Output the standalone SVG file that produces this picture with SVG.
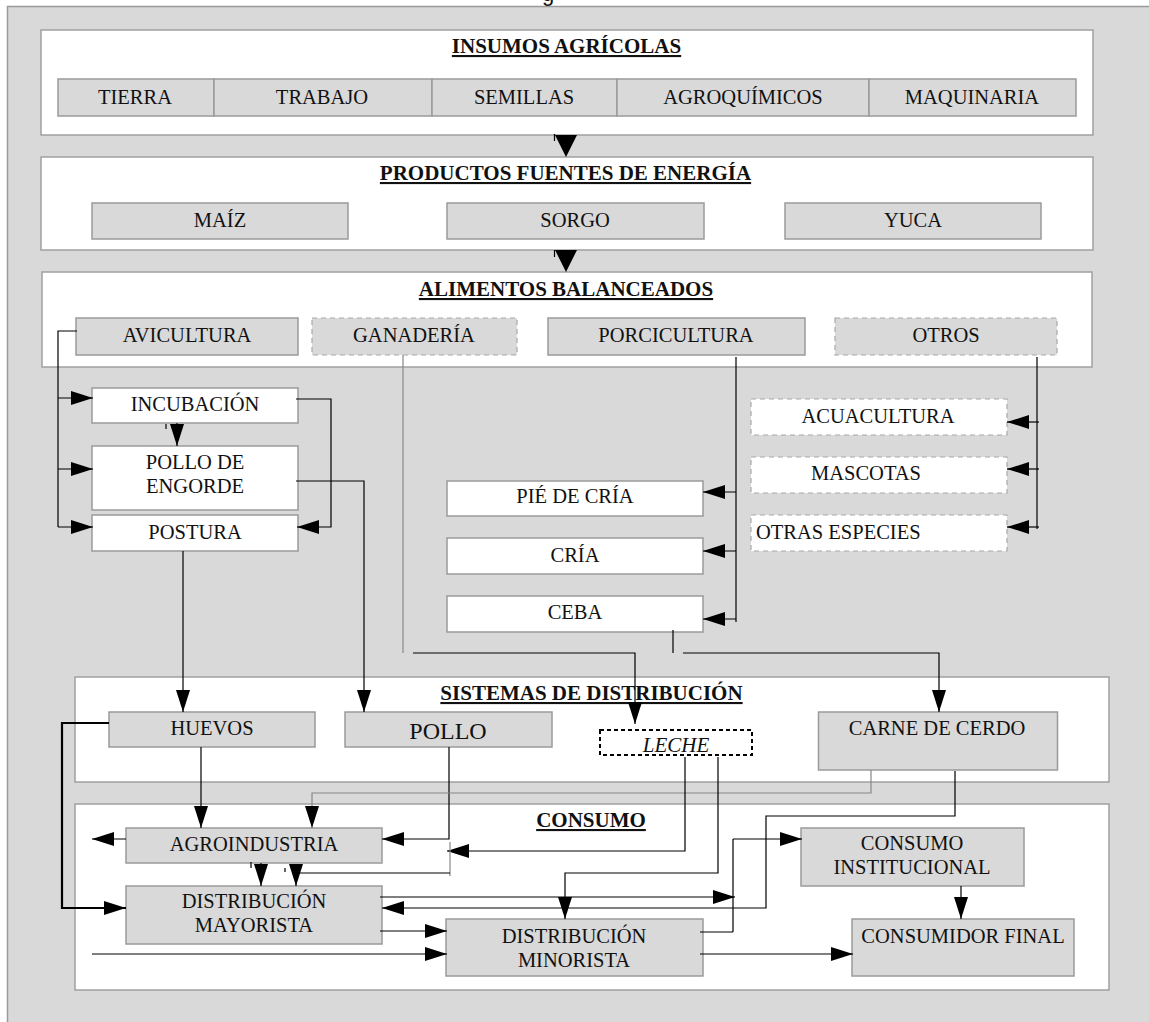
<svg xmlns="http://www.w3.org/2000/svg" width="1149" height="1022" viewBox="0 0 1149 1022" font-family="'Liberation Serif', 'Times New Roman', 'DejaVu Serif', serif">
<defs>
<style>
.bg{fill:#d9d9d9;stroke:#9a9a9a;stroke-width:1.5}
.panel{fill:#fff;stroke:#a0a0a0;stroke-width:1.5}
.box{fill:#d9d9d9;stroke:#9a9a9a;stroke-width:1.5}
.wbox{fill:#fff;stroke:#9a9a9a;stroke-width:1.5}
.dbox{fill:#d9d9d9;stroke:#a8a8a8;stroke-width:1.2;stroke-dasharray:5 4}
.dwbox{fill:#fff;stroke:#a8a8a8;stroke-width:1.2;stroke-dasharray:5 4}
.lbox{fill:#fff;stroke:#000;stroke-width:2;stroke-dasharray:4 3}
text{font-size:20.5px;fill:#111}
.c{text-anchor:middle}
.t{font-weight:bold;font-size:21px;text-anchor:middle;text-decoration:underline}
.ln{fill:none;stroke:#000;stroke-width:1.2}
.gl{fill:none;stroke:#888;stroke-width:1.2}
.thick{fill:none;stroke:#000;stroke-width:2.2}
.tri{fill:#000}
</style>
<marker id="ah" markerUnits="userSpaceOnUse" markerWidth="22" markerHeight="14" refX="22" refY="7" orient="auto">
<path d="M0,0 L22,7 L0,14 z" fill="#000"/>
</marker>
</defs>

<rect class="bg" x="7.5" y="6.5" width="1145" height="1020"/>
<text x="542" y="0.5" font-family="'Liberation Sans', Arial, sans-serif" style="font-size:22px">g</text>

<g id="insumos">
<rect class="panel" x="41" y="30" width="1052" height="105"/>
<text class="t" x="566.5" y="53">INSUMOS AGRÍCOLAS</text>
</g>
<g id="tierra"><rect class="box" x="58" y="79" width="156" height="37"/><text class="c" x="135" y="104">TIERRA</text></g>
<g id="trabajo"><rect class="box" x="214" y="79" width="218" height="37"/><text class="c" x="322" y="104">TRABAJO</text></g>
<g id="semillas"><rect class="box" x="432" y="79" width="185" height="37"/><text class="c" x="524" y="104">SEMILLAS</text></g>
<g id="agroquimicos"><rect class="box" x="617" y="79" width="252" height="37"/><text class="c" x="743" y="104">AGROQUÍMICOS</text></g>
<g id="maquinaria"><rect class="box" x="869" y="79" width="207" height="37"/><text class="c" x="972" y="104">MAQUINARIA</text></g>

<g id="productos">
<rect class="panel" x="41" y="157" width="1052" height="93"/>
<text class="t" x="565.5" y="180">PRODUCTOS FUENTES DE ENERGÍA</text>
</g>
<g id="maiz"><rect class="box" x="92" y="203" width="256" height="36"/><text class="c" x="220" y="227">MAÍZ</text></g>
<g id="sorgo"><rect class="box" x="447" y="203" width="257" height="36"/><text class="c" x="575" y="227">SORGO</text></g>
<g id="yuca"><rect class="box" x="785" y="203" width="256" height="36"/><text class="c" x="913" y="227">YUCA</text></g>

<g id="alimentos">
<rect class="panel" x="42" y="272" width="1050" height="95"/>
<text class="t" x="566" y="296">ALIMENTOS BALANCEADOS</text>
</g>
<g id="avicultura"><rect class="box" x="76" y="318" width="222" height="37"/><text class="c" x="187" y="342">AVICULTURA</text></g>
<g id="ganaderia"><rect class="dbox" x="312" y="318" width="205" height="37"/><text class="c" x="414" y="342">GANADERÍA</text></g>
<g id="porcicultura"><rect class="box" x="548" y="318" width="257" height="37"/><text class="c" x="676" y="342">PORCICULTURA</text></g>
<g id="otros"><rect class="dbox" x="835" y="318" width="222" height="37"/><text class="c" x="946" y="342">OTROS</text></g>

<g id="incubacion"><rect class="wbox" x="92" y="388" width="206" height="35"/><text class="c" x="195" y="411">INCUBACIÓN</text></g>
<g id="pollo-engorde"><rect class="wbox" x="92" y="446" width="206" height="64"/><text class="c" x="195" y="469">POLLO DE</text><text class="c" x="195" y="493">ENGORDE</text></g>
<g id="postura"><rect class="wbox" x="92" y="515" width="206" height="36"/><text class="c" x="195" y="539">POSTURA</text></g>

<g id="pie-de-cria"><rect class="wbox" x="447" y="481" width="256" height="35"/><text class="c" x="575" y="503">PIÉ DE CRÍA</text></g>
<g id="cria"><rect class="wbox" x="447" y="538" width="256" height="36"/><text class="c" x="575" y="562">CRÍA</text></g>
<g id="ceba"><rect class="wbox" x="447" y="596" width="256" height="36"/><text class="c" x="575" y="619">CEBA</text></g>

<g id="acuacultura"><rect class="dwbox" x="751" y="399" width="256" height="36"/><text class="c" x="878" y="423">ACUACULTURA</text></g>
<g id="mascotas"><rect class="dwbox" x="751" y="457" width="256" height="36"/><text class="c" x="866" y="480">MASCOTAS</text></g>
<g id="otras-especies"><rect class="dwbox" x="751" y="515" width="256" height="36"/><text x="756" y="539">OTRAS ESPECIES</text></g>

<g id="sistemas">
<rect class="panel" x="75" y="677" width="1034" height="105"/>
<text class="t" x="591.5" y="700">SISTEMAS DE DISTRIBUCIÓN</text>
</g>
<g id="huevos"><rect class="box" x="109" y="712" width="206" height="35"/><text class="c" x="212" y="735">HUEVOS</text></g>
<g id="pollo"><rect class="box" x="345" y="712" width="207" height="35"/><text class="c" x="448" y="739" style="font-size:24px">POLLO</text></g>
<g id="leche"><rect class="lbox" x="600" y="730" width="152" height="25"/><text class="c" x="676" y="752" style="font-style:italic;font-size:21px">LECHE</text></g>
<g id="carne-cerdo"><rect class="box" x="818.5" y="712" width="239" height="58"/><text class="c" x="937" y="735">CARNE DE CERDO</text></g>

<g id="consumo">
<rect class="panel" x="75" y="804" width="1034" height="186"/>
<text class="t" x="591" y="827">CONSUMO</text>
</g>
<g id="agroindustria"><rect class="box" x="126" y="828" width="256" height="35"/><text class="c" x="254" y="851">AGROINDUSTRIA</text></g>
<g id="mayorista"><rect class="box" x="126" y="886" width="256" height="58"/><text class="c" x="254" y="908">DISTRIBUCIÓN</text><text class="c" x="254" y="932">MAYORISTA</text></g>
<g id="minorista"><rect class="box" x="446" y="919" width="257" height="57"/><text class="c" x="574" y="943">DISTRIBUCIÓN</text><text class="c" x="574" y="967">MINORISTA</text></g>
<g id="consumo-institucional"><rect class="box" x="801" y="828" width="223" height="58"/><text class="c" x="912" y="850">CONSUMO</text><text class="c" x="912" y="874">INSTITUCIONAL</text></g>
<g id="consumidor-final"><rect class="box" x="852" y="919" width="222" height="57"/><text class="c" x="963" y="943">CONSUMIDOR FINAL</text></g>

<g id="connectors">
<polygon class="tri" points="555,135 577,135 566,157"/>
<polygon class="tri" points="555,250 577,250 566,272"/>
<path class="ln" d="M554.5,134 V141 M554.5,250 V257"/>

<path class="ln" d="M77,331 H58 V527"/>
<path class="ln" d="M58,398 H93" marker-end="url(#ah)"/>
<path class="ln" d="M58,469 H93" marker-end="url(#ah)"/>
<path class="ln" d="M58,527 H93" marker-end="url(#ah)"/>
<path class="ln" d="M296,399 H331 V527 H297" marker-end="url(#ah)"/>
<path class="ln" d="M177,423 V446" marker-end="url(#ah)"/>
<path class="ln" d="M166,424 V429"/>
<path class="ln" d="M296,481 H364 V712" marker-end="url(#ah)"/>
<path class="ln" d="M183,551 V712" marker-end="url(#ah)"/>

<path class="gl" d="M403,355 V653"/>
<path class="ln" d="M413,653 H635 V724" marker-end="url(#ah)"/>

<path class="ln" d="M736,357 V622"/>
<path class="ln" d="M736,492 H703" marker-end="url(#ah)"/>
<path class="ln" d="M736,551 H703" marker-end="url(#ah)"/>
<path class="ln" d="M736,619 H703" marker-end="url(#ah)"/>

<path class="ln" d="M673,630 V653"/>
<path class="ln" d="M683,653 H939 V712" marker-end="url(#ah)"/>

<path class="ln" d="M1037,357 V529"/>
<path class="ln" d="M1039,422 H1007" marker-end="url(#ah)"/>
<path class="ln" d="M1039,469 H1007" marker-end="url(#ah)"/>
<path class="ln" d="M1039,527 H1007" marker-end="url(#ah)"/>

<path class="thick" d="M109,723 H62 V908 H126" marker-end="url(#ah)"/>
<path class="ln" d="M201,747 V828" marker-end="url(#ah)"/>
<path class="ln" d="M449,747 V839 H382" marker-end="url(#ah)"/>
<path class="gl" d="M871,770 V793 H312 V828" marker-end="url(#ah)"/>

<path class="ln" d="M685,757 V851 H447" marker-end="url(#ah)"/>
<path class="gl" d="M450,842 V876"/>
<path class="ln" d="M450,873 H296 V886" marker-end="url(#ah)"/>
<path class="ln" d="M261,863 V886" marker-end="url(#ah)"/>
<path class="ln" d="M251,862 V868 M285,868 V872"/>

<path class="ln" d="M718,757 V873 H565 V919" marker-end="url(#ah)"/>
<path class="ln" d="M955,771 V816 H766 V908 H382" marker-end="url(#ah)"/>

<path class="ln" d="M380,897 H735" marker-end="url(#ah)"/>
<path class="ln" d="M733,839 V932 M700,932 H733"/>
<path class="ln" d="M733,839 H802" marker-end="url(#ah)"/>
<path class="ln" d="M380,931 H447" marker-end="url(#ah)"/>
<path class="ln" d="M92,954 H447" marker-end="url(#ah)"/>
<path class="ln" d="M126,839 H92" marker-end="url(#ah)"/>
<path class="ln" d="M700,954 H853" marker-end="url(#ah)"/>
<path class="ln" d="M961,886 V919" marker-end="url(#ah)"/>
</g>
</svg>
